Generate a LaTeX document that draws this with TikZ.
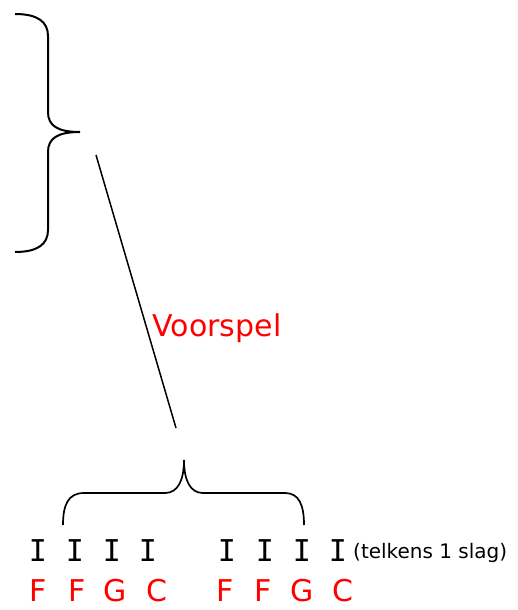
\documentclass[tikz,border=0pt]{standalone}
\usepackage{fontspec}
\setmainfont{DejaVu Sans}
\newfontfamily\slagfont{DejaVu Sans Mono}
\newcommand{\bigf}{\fontsize{30}{30}\selectfont}

\begin{document}
\begin{tikzpicture}[x=1pt,y=-1pt,every node/.style={inner sep=1pt}]
   \useasboundingbox (0,0) rectangle (517,610);
   % grote accolade bovenaan
   \draw[line width=2pt] (15,14) .. controls (38,14) and (48,22) .. (48,36) -- (48,112)
     .. controls (48,126) and (58,132) .. (80,132)
     .. controls (58,132) and (48,138) .. (48,152) -- (48,230)
     .. controls (48,244) and (38,252) .. (15,252);
   % accolade boven de slagen
   \draw[line width=1.7pt] (63,525) .. controls (63,505) and (68,493) .. (84,493) -- (165,493)
     .. controls (178,493) and (184,480) .. (184,460)
     .. controls (184,480) and (190,493) .. (203,493) -- (285,493)
     .. controls (299,493) and (304,505) .. (304,525);
   \coordinate (voortop) at (96,155);
   \coordinate (voorbot) at (176,428);
   \draw[line width=1.5pt] (voortop) -- (voorbot);
   \node[red] (voorspel) at (217,328) {\bigf Voorspel};
   \foreach \x [count=\i] in {38,75,112,148,227,265,302,338}
     \node (slag\i) at (\x,551) {\bigf\slagfont I};
   \node[anchor=west,inner sep=0pt] (telkens) at (353,553) {\fontsize{20}{20}\selectfont (telkens 1 slag)};
   \foreach \x/\c [count=\i] in {38/F,77/F,115/G,157/C,225/F,263/F,302/G,343/C}
     \node[red] (akkoord\i) at (\x,591) {\bigf \c};
\end{tikzpicture}
\end{document}
